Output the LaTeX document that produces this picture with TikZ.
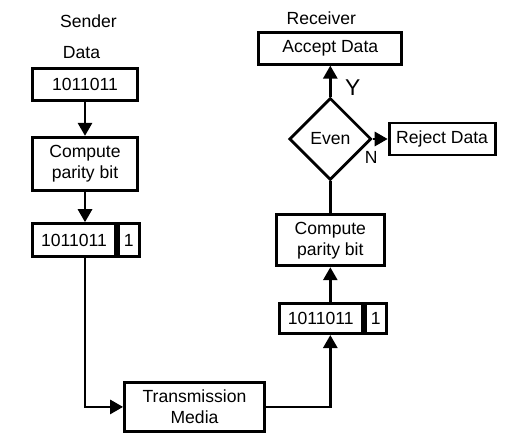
\documentclass[tikz,border=0pt]{standalone}
\usepackage{fontspec}
\setmainfont{Liberation Sans}
\setsansfont{Liberation Sans}
\usetikzlibrary{positioning,shapes.geometric,arrows.meta}

\begin{document}
\begin{tikzpicture}[auto]
	\tikzstyle{step box} = [
		draw, line width=1.6pt, fill=white,
		rectangle, align=center,
		minimum height=0.64cm, minimum width=2.1cm,
		font={\sffamily}];
	\tikzstyle{bits} = [
		draw, line width=1.6pt, fill=white,
		rectangle, inner sep=0pt,
		minimum height=0.64cm, minimum width=1.66cm,
		font={\sffamily}];
	\tikzstyle{parity} = [
		draw, line width=1.6pt, fill=white,
		rectangle, inner sep=0pt,
		minimum height=0.64cm, minimum width=0.42cm,
		font={\sffamily}];
	\tikzstyle{check} = [
		draw, line width=1.6pt, fill=white,
		diamond, aspect=1, inner sep=0pt,
		minimum size=1.64cm,
		font={\sffamily}];
	\tikzstyle{caption} = [
		font={\sffamily}];

	\tikzstyle{take} = [
		line width=1.6pt, ->, >={Triangle[length=0.26cm,width=0.28cm]},
		font={\sffamily}];
	\tikzstyle{wire} = [
		line width=1.6pt];

	\useasboundingbox (0,0) rectangle (10.2,-8.96);

	% sender side
	\node[step box] (data) at (1.70,-1.69) {1011011};
	\node[caption, above=0.05cm of data, xshift=-0.07cm] (datalbl) {Data};
	\node[caption, above=0.13cm of datalbl, xshift=0.14cm] (sender) {Sender};
	\node[step box, below=0.68cm of data, minimum height=1.06cm] (comp1) {Compute\\parity bit};
	\node[bits, minimum height=0.66cm, below=0.61cm of comp1.south west, anchor=north west] (bits1) {1011011};
	\node[parity, minimum height=0.66cm, right=0pt of bits1] (par1) {1};

	% channel
	\node[step box, minimum width=2.8cm, minimum height=0.98cm,
		below right=2.46cm and 1.84cm of bits1.south west] (trans) {Transmission\\Media};

	% receiver side
	\node[bits, minimum height=0.6cm, above right=0.92cm and 0.24cm of trans.north east] (bits2) {1011011};
	\node[parity, minimum height=0.6cm, minimum width=0.43cm, right=0pt of bits2] (par2) {1};
	\node[step box, minimum width=2.16cm, minimum height=1.02cm,
		above=0.70cm of bits2.north west, anchor=south west, xshift=-0.06cm] (comp2) {Compute\\parity bit};
	\node[check, above=0.64cm of comp2] (even) {Even};
	\node[step box, minimum width=2.86cm, above=0.62cm of even] (accept) {Accept Data};
	\node[caption, above=0pt of accept, xshift=-0.18cm] (receiver) {Receiver};
	\node[step box, minimum width=2.12cm, right=0.30cm of even] (reject) {Reject Data};

	\draw[take] (data) -- (comp1);
	\draw[take] (comp1.south) -- (comp1.south |- bits1.north);
	\draw[take] (comp1.south |- bits1.south) |- (trans.west);
	\draw[take] (trans.east) -| (comp2.south |- bits2.south);
	\draw[take] (comp2.south |- bits2.north) -- (comp2.south);
	\draw[wire] (comp2) -- (even);
	\draw[take] (even) to node[pos=0.3, right=0.15cm, font={\sffamily\fontsize{13}{15}\selectfont}]{Y} (accept);
	\draw[take] (even) to node[below=0.1cm, xshift=-0.18cm]{N} (reject);
\end{tikzpicture}
\end{document}
